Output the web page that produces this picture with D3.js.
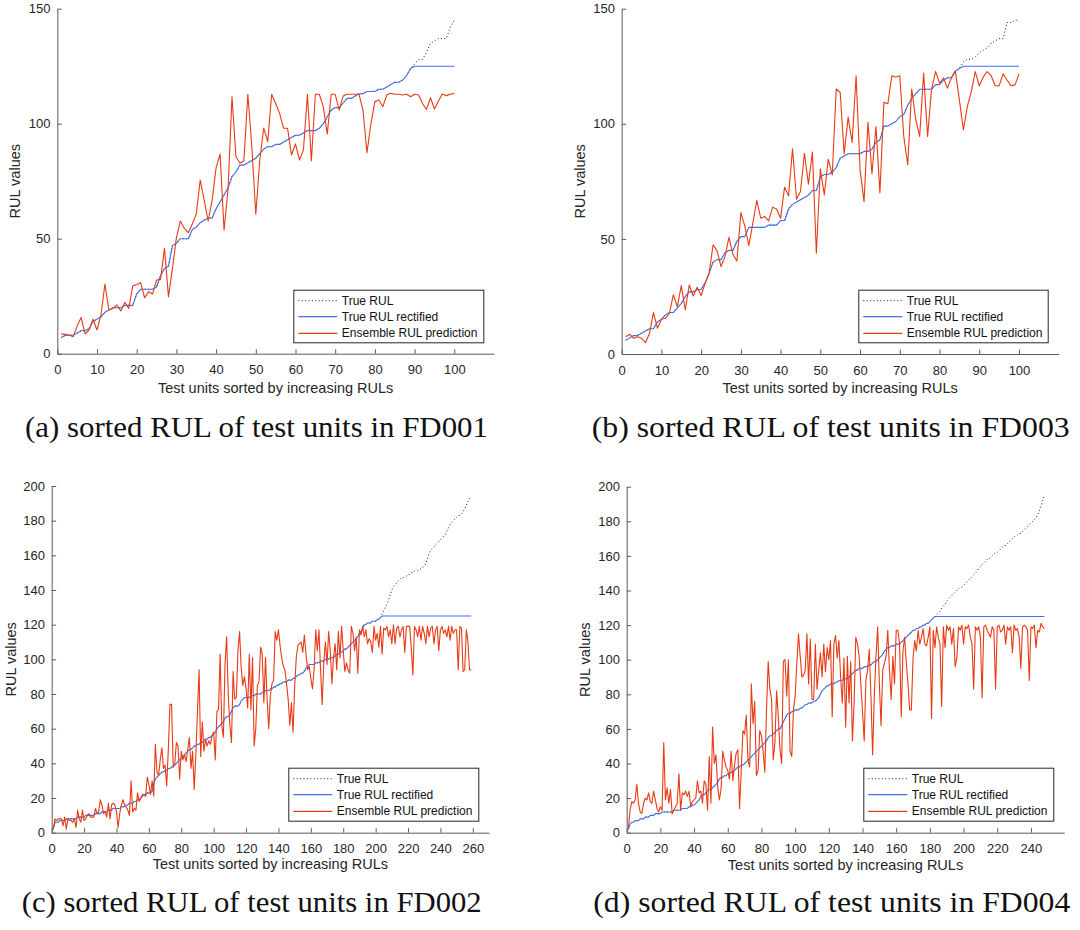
<!DOCTYPE html>
<html>
<head>
<meta charset="utf-8">
<script src="https://cdn.jsdelivr.net/npm/d3@7"></script>
<style>
  body { margin: 0; background: #fff; }
  svg { display: block; font-family: "Liberation Sans", Arial, Helvetica, sans-serif; }
</style>
</head>
<body>
<svg id="fig" width="1080" height="930"></svg>
<script>
// ---------- tick labels ----------
const xTicks100 = [0, 10, 20, 30, 40, 50, 60, 70, 80, 90, 100];
const yTicks150 = [0, 50, 100, 150];
const xTicks260 = [0, 20, 40, 60, 80, 100, 120, 140, 160, 180, 200, 220, 240, 260];
const xTicks240 = [0, 20, 40, 60, 80, 100, 120, 140, 160, 180, 200, 220, 240];
const yTicks200 = [0, 20, 40, 60, 80, 100, 120, 140, 160, 180, 200];

const seriesNames = ["True RUL", "True RUL rectified", "Ensemble RUL prediction"];
const rulCap = 125;

// ---------- FD001 (100 test units, sorted by true RUL) ----------
const fd001True = [
  7, 8, 8, 8, 9, 10, 10, 11, 14, 15,
  16, 18, 19, 20, 20, 20, 21, 21, 21, 26,
  28, 28, 28, 28, 29, 34, 37, 38, 47, 48,
  50, 50, 50, 54, 55, 57, 58, 59, 59, 63,
  66, 69, 72, 77, 79, 82, 82, 83, 84, 85,
  87, 89, 90, 90, 91, 91, 92, 93, 94, 95,
  95, 96, 97, 97, 97, 98, 100, 103, 106, 107,
  107, 109, 111, 111, 112, 113, 113, 114, 114, 114,
  115, 115, 116, 117, 118, 118, 119, 121, 124, 126,
  128, 128, 131, 135, 136, 137, 137, 137, 142, 145
];
const fd001Pred = [
  8.6, 8.4, 8.1, 7.4, 12, 15.8, 8.6, 10.3, 15, 10.3,
  16.8, 30.3, 19, 19.7, 21.2, 18.6, 22.3, 19.7, 29.4, 30.1,
  30.9, 24.3, 27, 26, 32, 32.3, 45.8, 24.8, 37, 50.4,
  57.7, 54.5, 52.6, 56.4, 60.7, 75.5, 66.8, 57.7, 66.8, 80.9,
  86.8, 53.8, 71.2, 111.7, 85.7, 82.8, 83.9, 112.8, 90, 60.6,
  84.2, 98.1, 92.2, 112.8, 108.8, 104.5, 98, 98, 86.4, 91.2,
  84.2, 88.6, 112.8, 83.9, 112.8, 112.8, 107.4, 95.5, 112.8, 112.8,
  105.9, 112, 112.8, 112.8, 112.8, 112.8, 105.9, 87.4, 100, 109.6,
  110.3, 107.4, 112.5, 113.2, 112.8, 112.8, 112.5, 112.8, 111.7, 112.8,
  112.5, 108.8, 106.2, 111.3, 106.4, 109.9, 112.9, 112.2, 112.8, 113.2
];

// ---------- FD003 (100 test units) ----------
const fd003True = [
  6, 7, 8, 8, 9, 10, 11, 11, 14, 15,
  17, 18, 18, 20, 22, 25, 27, 27, 28, 28,
  31, 35, 40, 41, 41, 44, 45, 45, 49, 51,
  51, 55, 55, 55, 55, 55, 56, 56, 56, 58,
  58, 63, 65, 66, 67, 68, 69, 71, 71, 77,
  78, 78, 79, 81, 85, 86, 87, 87, 87, 87,
  88, 88, 89, 92, 93, 99, 99, 100, 101, 103,
  104, 108, 111, 113, 115, 115, 115, 115, 117, 117,
  119, 120, 120, 123, 124, 127, 128, 128, 129, 131,
  132, 133, 135, 136, 137, 137, 144, 144, 145, 145
];
const fd003Pred = [
  7.5, 8.6, 6.8, 7.5, 6.8, 4.9, 9, 18, 11.2, 15.1,
  15.5, 17.7, 25.7, 20.6, 29.7, 19.1, 30, 25.2, 29, 25.4,
  30.7, 35.1, 47.4, 44.9, 38, 42.3, 50.7, 43.3, 40.4, 61.4,
  55.4, 47.1, 56.8, 66.7, 59, 59.7, 57.8, 63.8, 62.9, 59,
  72.5, 68.7, 89.1, 67.2, 70.6, 87.2, 73.8, 87.7, 43.8, 80.4,
  69.1, 84.6, 77.8, 115.1, 113.6, 87, 102.9, 91.9, 120.9, 80,
  66.2, 100.7, 78.3, 98.8, 70.1, 109.3, 108.7, 120.9, 120.3, 120.9,
  94.5, 82.2, 115.1, 102, 94.5, 122, 94.5, 115.1, 122.7, 117.7,
  119.9, 115.5, 120, 122.7, 110.4, 97.4, 107.5, 114, 122.7, 116.5,
  120.3, 122.7, 120.9, 116.5, 116.5, 121.7, 119, 116.5, 116.9, 121.7
];

// ---------- FD002 (259 test units) ----------
const fd002True = [
  2, 6, 6, 6, 7, 7, 7, 7, 8, 8,
  8, 8, 8, 8, 8, 9, 9, 9, 9, 9,
  10, 10, 10, 10, 10, 10, 11, 11, 11, 11,
  12, 12, 12, 12, 13, 13, 13, 14, 14, 14,
  14, 14, 15, 15, 15, 16, 16, 17, 17, 17,
  18, 18, 19, 19, 20, 21, 22, 22, 23, 23,
  23, 24, 28, 31, 32, 33, 34, 35, 35, 36,
  36, 37, 37, 38, 38, 39, 40, 41, 42, 43,
  44, 45, 46, 47, 48, 48, 49, 50, 50, 51,
  51, 52, 52, 53, 54, 54, 55, 55, 56, 57,
  58, 60, 61, 62, 63, 64, 66, 67, 67, 68,
  70, 72, 73, 73, 73, 74, 76, 77, 78, 78,
  78, 78, 79, 79, 79, 80, 80, 80, 80, 81,
  81, 82, 82, 82, 83, 83, 84, 84, 85, 85,
  86, 86, 87, 87, 87, 88, 88, 88, 89, 89,
  90, 91, 91, 92, 92, 93, 95, 96, 97, 97,
  97, 97, 98, 98, 98, 99, 99, 99, 100, 100,
  100, 101, 101, 101, 102, 103, 103, 104, 104, 105,
  106, 106, 107, 108, 109, 110, 111, 112, 113, 115,
  116, 118, 120, 120, 121, 121, 121, 122, 122, 122,
  123, 123, 124, 126, 128, 130, 132, 134, 137, 140,
  142, 143, 144, 145, 146, 147, 147, 148, 148, 149,
  149, 150, 150, 151, 151, 151, 152, 152, 153, 154,
  155, 158, 161, 163, 164, 165, 166, 167, 168, 169,
  170, 171, 172, 174, 176, 178, 179, 180, 181, 182,
  183, 183, 184, 185, 187, 189, 191, 193, 194
];
const fd002Pred = [
  2, 8, 7, 8, 8, 8, 4, 9, 2, 8,
  7, 7, 6, 8, 3, 13, 8, 6, 13, 7,
  8, 10, 11, 9, 9, 9, 14, 11, 12, 19,
  16, 11, 12, 9, 17, 8, 16, 17, 16, 12,
  3, 11, 16, 19, 16, 15, 13, 10, 30, 12,
  14, 13, 23, 18, 20, 22, 22, 21, 32, 28,
  22, 30, 21, 51, 35, 33, 42, 49, 37, 39,
  27, 48, 74, 74, 38, 40, 52, 50, 31, 47,
  42, 45, 41, 48, 55, 37, 47, 25, 45, 70,
  94, 44, 64, 47, 54, 50, 53, 51, 56, 58,
  42, 70, 71, 103, 62, 55, 97, 113, 80, 62,
  52, 93, 77, 78, 105, 116, 95, 85, 90, 83,
  72, 103, 71, 101, 50, 60, 85, 87, 107, 103,
  75, 101, 77, 60, 79, 86, 88, 116, 111, 117,
  108, 101, 96, 94, 86, 77, 62, 75, 58, 84,
  101, 108, 109, 110, 104, 114, 103, 94, 96, 89,
  83, 94, 117, 105, 117, 94, 74, 98, 110, 97,
  116, 105, 86, 101, 109, 94, 116, 101, 119, 105,
  93, 98, 94, 92, 119, 115, 105, 113, 92, 117,
  114, 119, 113, 117, 109, 112, 110, 104, 119, 111,
  115, 107, 119, 103, 118, 117, 119, 113, 117, 109,
  120, 109, 118, 119, 113, 117, 119, 104, 119, 119,
  119, 107, 91, 119, 117, 113, 119, 111, 119, 115,
  109, 119, 113, 118, 119, 109, 117, 119, 105, 117,
  119, 115, 117, 113, 119, 111, 119, 115, 117, 117,
  94, 119, 118, 93, 94, 117, 110, 94, 94
];

// ---------- FD004 (248 test units) ----------
const fd004True = [
  2, 5, 6, 6, 7, 7, 7, 8, 8, 8,
  9, 9, 9, 10, 10, 10, 11, 11, 11, 11,
  12, 12, 12, 12, 12, 12, 12, 13, 13, 13,
  13, 13, 14, 14, 14, 14, 15, 15, 16, 16,
  17, 18, 19, 21, 22, 22, 23, 24, 25, 25,
  26, 27, 28, 29, 31, 32, 32, 33, 33, 34,
  34, 35, 35, 36, 37, 38, 38, 39, 39, 40,
  41, 42, 43, 44, 45, 46, 47, 48, 49, 50,
  51, 52, 53, 55, 56, 56, 57, 58, 59, 60,
  60, 62, 64, 66, 68, 69, 69, 70, 70, 71,
  71, 71, 72, 72, 73, 74, 74, 75, 75, 75,
  76, 76, 77, 78, 80, 82, 83, 84, 85, 85,
  86, 86, 86, 87, 87, 88, 88, 88, 89, 89,
  89, 90, 91, 92, 93, 94, 94, 95, 95, 95,
  96, 96, 96, 97, 97, 98, 99, 99, 100, 101,
  102, 103, 105, 106, 107, 107, 108, 108, 108, 109,
  109, 109, 110, 111, 112, 113, 114, 115, 116, 117,
  117, 118, 118, 119, 119, 120, 120, 121, 121, 122,
  123, 124, 125, 126, 127, 128, 130, 131, 132, 134,
  135, 136, 137, 138, 139, 140, 141, 142, 142, 143,
  144, 145, 146, 147, 148, 149, 150, 151, 153, 154,
  155, 156, 157, 158, 158, 159, 160, 161, 162, 162,
  163, 164, 165, 166, 166, 167, 168, 169, 170, 171,
  172, 172, 173, 173, 174, 175, 176, 177, 178, 179,
  180, 181, 182, 184, 186, 189, 192, 195
];
const fd004Pred = [
  3, 13, 18, 17, 19, 28, 17, 12, 11, 17,
  20, 19, 23, 18, 17, 24, 19, 14, 12, 15,
  13, 52, 19, 26, 17, 25, 11, 13, 15, 17,
  34, 13, 23, 22, 24, 21, 24, 15, 18, 19,
  20, 30, 23, 24, 17, 30, 28, 13, 44, 17,
  61, 40, 45, 27, 19, 25, 47, 42, 38, 36,
  31, 47, 30, 39, 46, 48, 14, 36, 59, 57,
  68, 42, 38, 86, 63, 76, 33, 36, 59, 56,
  47, 35, 71, 99, 83, 77, 42, 52, 82, 67,
  48, 40, 99, 100, 79, 100, 47, 44, 71, 79,
  98, 115, 102, 90, 91, 94, 115, 86, 112, 77,
  77, 109, 83, 94, 104, 90, 109, 93, 107, 100,
  111, 67, 109, 114, 101, 111, 90, 75, 101, 61,
  102, 75, 99, 53, 75, 113, 109, 102, 86, 70,
  53, 88, 94, 106, 79, 45, 79, 102, 119, 86,
  62, 94, 98, 102, 117, 94, 77, 102, 86, 117,
  117, 109, 67, 105, 113, 98, 86, 71, 71, 101,
  111, 105, 117, 109, 113, 118, 109, 108, 113, 119,
  66, 117, 107, 119, 113, 109, 73, 119, 107, 120,
  117, 119, 109, 118, 96, 101, 119, 117, 120, 109,
  119, 118, 120, 113, 109, 83, 119, 117, 119, 113,
  78, 119, 120, 117, 115, 113, 119, 117, 83, 119,
  120, 116, 117, 120, 109, 119, 117, 119, 104, 120,
  117, 118, 113, 95, 119, 120, 119, 117, 88, 119,
  118, 120, 107, 117, 116, 121, 119, 118
];

// ---------- layout of the four sub-figures ----------
const panels = [
  { trueRul: fd001True, pred: fd001Pred, xMax: 110, yMax: 150, xTicks: xTicks100, yTicks: yTicks150,
    left: 57.3, right: 494, top: 8.7, bottom: 353.7, yLabelX: 15.3, xLabelY: 393.3,
    legend: { x: 293.3, y: 289.7, w: 190, h: 52.6 },
    caption: { text: "(a) sorted RUL of test units in FD001", x: 25, y: 436.7, len: 463 } },
  { trueRul: fd003True, pred: fd003Pred, xMax: 110, yMax: 150, xTicks: xTicks100, yTicks: yTicks150,
    left: 621.7, right: 1058.7, top: 8.7, bottom: 354, yLabelX: 580, xLabelY: 393.3,
    legend: { x: 858.3, y: 289.7, w: 189.4, h: 52.6 },
    caption: { text: "(b) sorted RUL of test units in FD003", x: 591.7, y: 436.5, len: 478 } },
  { trueRul: fd002True, pred: fd002Pred, xMax: 270, yMax: 200, xTicks: xTicks260, yTicks: yTicks200,
    left: 51.7, right: 489, top: 486, bottom: 832.7, yLabelX: 10.5, xLabelY: 869,
    legend: { x: 288.3, y: 767.7, w: 190, h: 53 },
    caption: { text: "(c) sorted RUL of test units in FD002", x: 21.7, y: 911.7, len: 460 } },
  { trueRul: fd004True, pred: fd004Pred, xMax: 259.8, yMax: 200, xTicks: xTicks240, yTicks: yTicks200,
    left: 626.7, right: 1064.3, top: 486.7, bottom: 832.7, yLabelX: 585, xLabelY: 869.5,
    legend: { x: 863.3, y: 767.7, w: 190, h: 53 },
    caption: { text: "(d) sorted RUL of test units in FD004", x: 593.3, y: 912, len: 477 } }
];

const colTrue = "#1a1a1a";
const colRect = "#4470ec";
const colPred = "#e83a14";
const axisCol = "#5c5c5c";
const textCol = "#262626";

const svg = d3.select("#fig");

panels.forEach(p => {
  const x = d3.scaleLinear().domain([0, p.xMax]).range([p.left, p.right]);
  const y = d3.scaleLinear().domain([0, p.yMax]).range([p.bottom, p.top]);
  const g = svg.append("g");

  // axes (ticks pointing inward, left and bottom only)
  const xAxis = d3.axisBottom(x).tickValues(p.xTicks).tickSizeInner(-4.5).tickSizeOuter(0).tickPadding(11.3);
  const yAxis = d3.axisLeft(y).tickValues(p.yTicks).tickSizeInner(-4.5).tickSizeOuter(0).tickPadding(6.8);
  const gx = g.append("g").attr("transform", `translate(0,${p.bottom})`).call(xAxis);
  const gy = g.append("g").attr("transform", `translate(${p.left},0)`).call(yAxis);
  [gx, gy].forEach(a => {
    a.attr("font-family", null).attr("font-size", null);
    a.select(".domain").attr("stroke", axisCol).attr("stroke-width", 1);
    a.selectAll(".tick line").attr("stroke", axisCol).attr("stroke-width", 1);
    a.selectAll(".tick text").attr("fill", textCol).attr("font-size", 13);
  });

  // axis titles
  g.append("text")
    .attr("x", (p.left + p.right) / 2).attr("y", p.xLabelY)
    .attr("text-anchor", "middle").attr("font-size", 14.5).attr("fill", textCol)
    .text("Test units sorted by increasing RULs");
  g.append("text")
    .attr("transform", `translate(${p.yLabelX},${(p.top + p.bottom) / 2}) rotate(-90)`)
    .attr("dy", "0.35em")
    .attr("text-anchor", "middle").attr("font-size", 14.5).attr("fill", textCol)
    .text("RUL values");

  // series
  const line = d3.line().x((d, i) => x(i + 1)).y(d => y(d));
  const rectified = p.trueRul.map(v => Math.min(v, rulCap));

  g.append("path").datum(p.trueRul).attr("d", line)
    .attr("fill", "none").attr("stroke", colTrue).attr("stroke-width", 1)
    .attr("stroke-dasharray", "1 2.4");
  g.append("path").datum(rectified).attr("d", line)
    .attr("fill", "none").attr("stroke", colRect).attr("stroke-width", 1.1)
    .attr("stroke-linejoin", "round");
  g.append("path").datum(p.pred).attr("d", line)
    .attr("fill", "none").attr("stroke", colPred).attr("stroke-width", 1.1)
    .attr("stroke-linejoin", "round");

  // legend
  const L = p.legend;
  const lg = g.append("g").attr("transform", `translate(${L.x},${L.y})`);
  lg.append("rect").attr("x", 0.5).attr("y", 0.5).attr("width", L.w).attr("height", L.h)
    .attr("fill", "#fff").attr("stroke", "#262626").attr("stroke-width", 1);
  const rows = [11, 27, 43.6];
  const styles = [
    { c: colTrue, dash: "1 2.4", w: 1 },
    { c: colRect, dash: null, w: 1.2 },
    { c: colPred, dash: null, w: 1.2 }
  ];
  seriesNames.forEach((name, k) => {
    lg.append("line").attr("x1", 5).attr("x2", 44).attr("y1", rows[k]).attr("y2", rows[k])
      .attr("stroke", styles[k].c).attr("stroke-width", styles[k].w)
      .attr("stroke-dasharray", styles[k].dash);
    lg.append("text").attr("x", 48.5).attr("y", rows[k]).attr("dy", "0.35em")
      .attr("font-size", 12).attr("fill", "#111").text(name);
  });

  // sub-figure caption
  const C = p.caption;
  svg.append("text")
    .attr("x", C.x).attr("y", C.y)
    .attr("font-family", "'Liberation Serif', 'Times New Roman', serif")
    .attr("font-size", 29).attr("fill", "#111")
    .attr("textLength", C.len).attr("lengthAdjust", "spacingAndGlyphs")
    .text(C.text);
});
</script>
</body>
</html>
